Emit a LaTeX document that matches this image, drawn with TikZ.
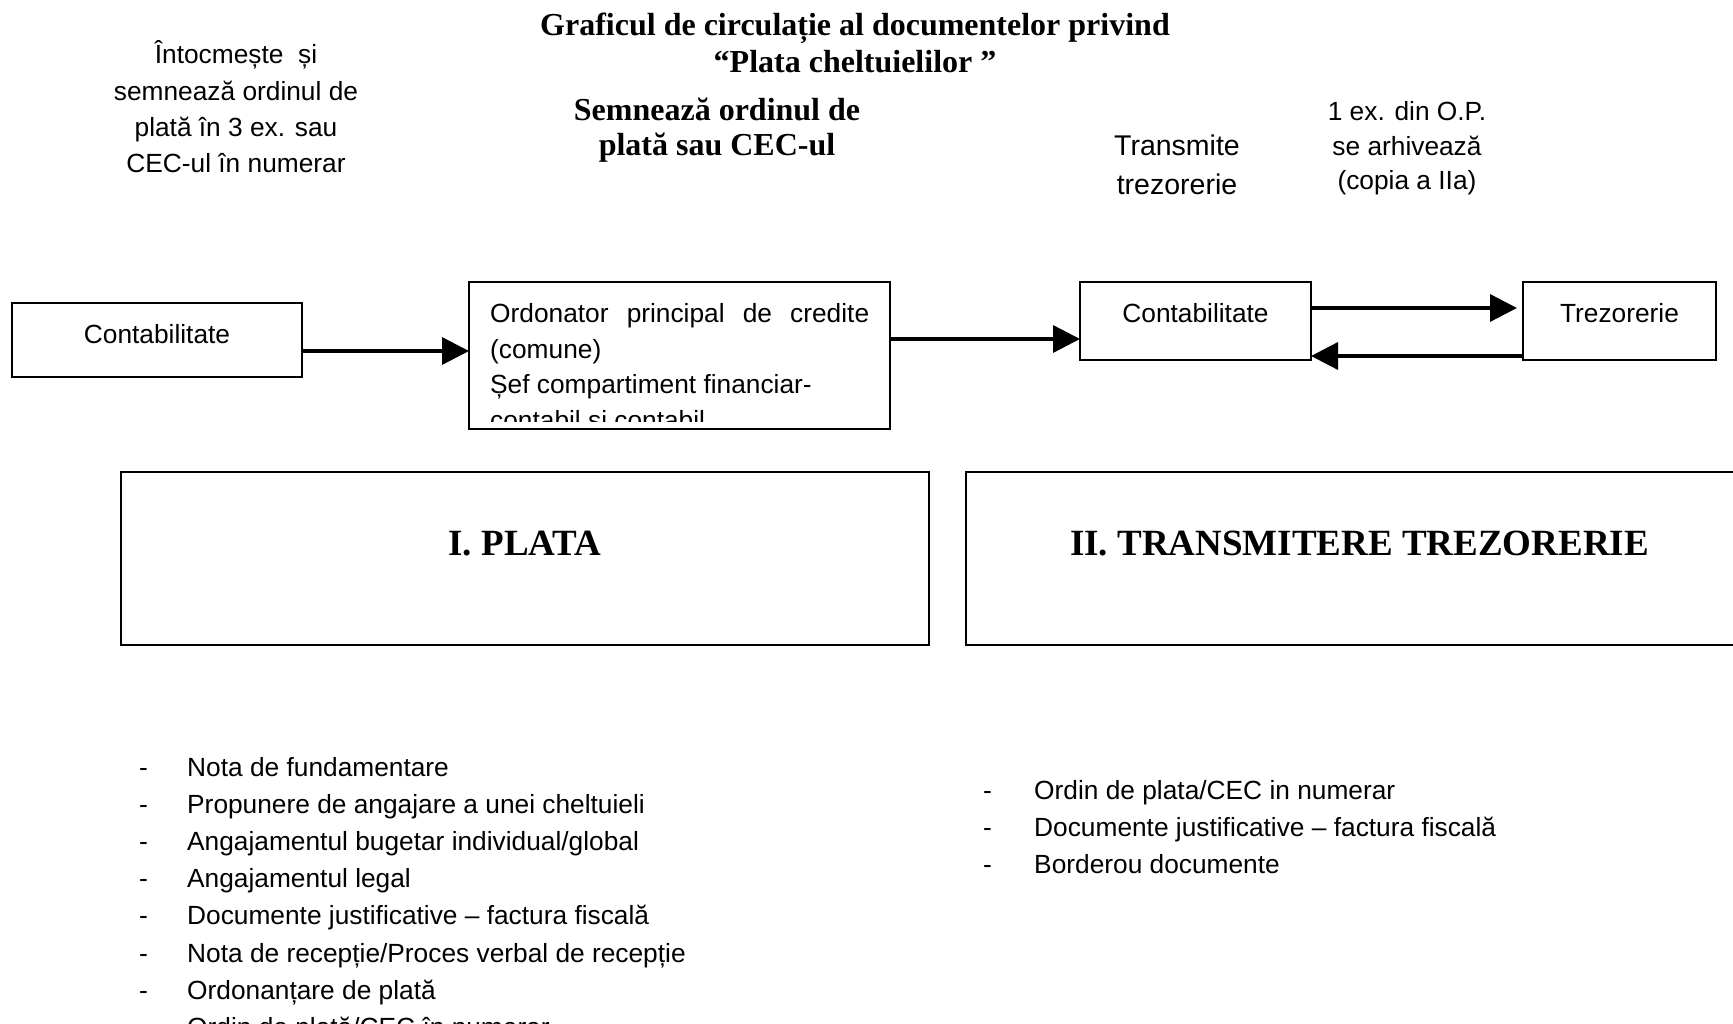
\documentclass[tikz,border=0pt]{standalone}
\usepackage{fontspec}
\setmainfont{Liberation Sans}
\newfontfamily\tnr{Liberation Serif}
\usetikzlibrary{arrows.meta}
\begin{document}
\begin{tikzpicture}[x=1pt,y=-1pt,
  box/.style={draw=black, line width=1.2pt, inner sep=0pt, outer sep=0pt},
  arr/.style={line width=3.4pt, -{Triangle[length=27pt,width=27pt]}},
  sans/.style={inner sep=0pt, anchor=base, font=\fontsize{26.3}{30}\selectfont},
  sansbig/.style={inner sep=0pt, anchor=base, font=\fontsize{28.5}{32}\selectfont},
  serifb/.style={inner sep=0pt, anchor=base, font=\tnr\bfseries\fontsize{32}{36}\selectfont},
  head/.style={inner sep=0pt, anchor=base, font=\tnr\bfseries\fontsize{37}{40}\selectfont},
  item/.style={inner sep=0pt, anchor=base west, font=\fontsize{26.3}{30}\selectfont}
]
\path[use as bounding box] (0,0) rectangle (1733,1024);
\clip (0,0) rectangle (1733,1024);

% title
\node[serifb] (t1) at (855,36) {Graficul de circulație al documentelor privind};
\node[serifb] (t2) at (855,73) {“Plata cheltuielilor ”};

% upper labels
\node[sans] (la1) at (236,64) {Întocmește~ și};
\node[sans] (la2) at (236,101) {semnează ordinul de};
\node[sans] (la3) at (236,137) {plată în 3 ex. sau};
\node[sans] (la4) at (236,173) {CEC-ul în numerar};

\node[serifb] (lb1) at (717,121) {Semnează ordinul de};
\node[serifb] (lb2) at (717,156) {plată sau CEC-ul};

\node[sansbig] (lc1) at (1177,155.5) {Transmite};
\node[sansbig] (lc2) at (1177,194.5) {trezorerie};

\node[sans] (ld1) at (1407,121) {1 ex. din O.P.};
\node[sans] (ld2) at (1407,155.5) {se arhivează};
\node[sans] (ld3) at (1407,190) {(copia a IIa)};

% boxes
\node[box, minimum width=290pt, minimum height=74pt] (c1) at (157,340) {};
\node[box, minimum width=421pt, minimum height=147pt] (c2) at (679.5,355.5) {};
\node[box, minimum width=231pt, minimum height=78pt] (c3) at (1195.5,321) {};
\node[box, minimum width=193pt, minimum height=78pt] (c4) at (1619.5,321) {};

\node[sans] (c1t) at (157,344) {Contabilitate};
\node[sans] (c3t) at (1195.5,322.5) {Contabilitate};
\node[sans] (c4t) at (1619.5,322.5) {Trezorerie};

\begin{scope}
  \clip (471,284) rectangle (888,421);
  \node[item] (c2a) at (490,323) {\makebox[379pt][s]{Ordonator principal de credite}};
  \node[item] (c2b) at (490,358.5) {(comune)};
  \node[item] (c2c) at (490,394) {Șef compartiment financiar-};
  \node[item] (c2d) at (490,429.5) {contabil și contabil};
\end{scope}

% arrows
\draw[arr] ([yshift=-11pt]c1.east) -- ([yshift=-11pt]c1.east -| c2.west);
\draw[arr] ([yshift=16.5pt]c2.east) -- ([yshift=16.5pt]c2.east -| c3.west);
\draw[arr, shorten >=6pt] ([yshift=13pt]c3.east) -- ([yshift=13pt]c3.east -| c4.west);
\draw[arr] ([yshift=-35pt]c4.west) -- ([yshift=-35pt]c4.west -| c3.east);

% big boxes
\node[box, minimum width=808pt, minimum height=173pt] (b1) at (525,558.5) {};
\node[box, minimum width=814pt, minimum height=173pt] (b2) at (1373,558.5) {};
\node[head] (b1t) at (525,555) {I. PLATA};
\node[head] (b2t) at (1359.5,555) {II. TRANSMITERE TREZORERIE};

% left list
\foreach \t [count=\i from 0] in {Nota de fundamentare,
  Propunere de angajare a unei cheltuieli,
  Angajamentul bugetar individual/global,
  Angajamentul legal,
  Documente justificative – factura fiscală,
  Nota de recepție/Proces verbal de recepție,
  Ordonanțare de plată,
  Ordin de plată/CEC în numerar}{
  \node[item] (ld\i) at (139,776.5+37.1*\i) {-};
  \node[item] (lt\i) at (187,776.5+37.1*\i) {\t};
}

% right list
\foreach \t [count=\i from 0] in {Ordin de plata/CEC in numerar,
  Documente justificative – factura fiscală,
  Borderou documente}{
  \node[item] (rd\i) at (983,799+37*\i) {-};
  \node[item] (rt\i) at (1034,799+37*\i) {\t};
}
\end{tikzpicture}
\end{document}
